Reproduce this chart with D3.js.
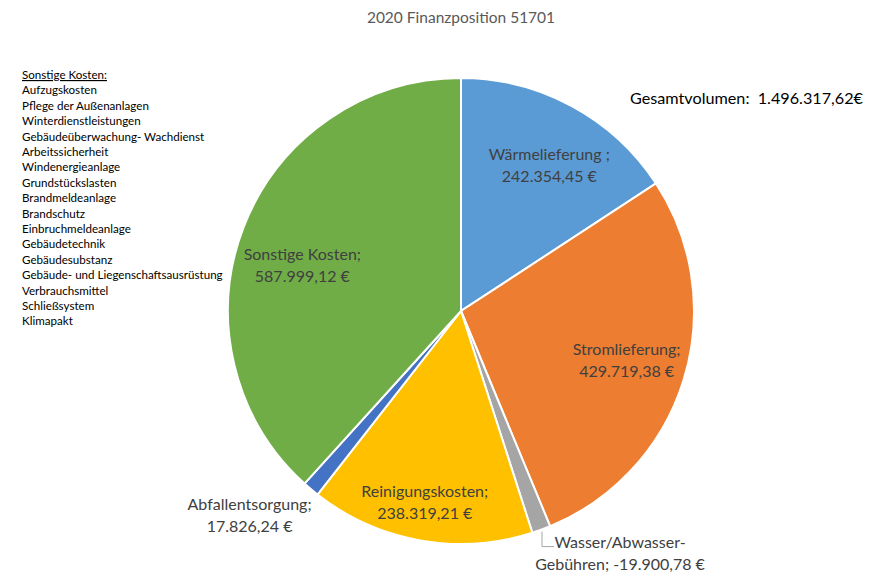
<!DOCTYPE html>
<html>
<head>
<meta charset="utf-8">
<script src="https://cdn.jsdelivr.net/npm/d3@7"></script>
<style>
  body { margin: 0; background: #fff; }
  text { font-family: Lato, "Noto Sans", sans-serif; }
</style>
</head>
<body>
<div id="chart"></div>
<script>
const width = 873,
    height = 573;

// Data
const categories = ["Wärmelieferung", "Stromlieferung", "Wasser/Abwasser-Gebühren",
    "Reinigungskosten", "Abfallentsorgung", "Sonstige Kosten"];
const values = [242354.45, 429719.38, -19900.78, 238319.21, 17826.24, 587999.12];
const colors = ["#5B9BD5", "#ED7D31", "#A5A5A5", "#FFC000", "#4472C4", "#70AD47"];
const labelLines = [
    ["Wärmelieferung ;", "242.354,45 €"],
    ["Stromlieferung;", "429.719,38 €"],
    ["Wasser/Abwasser-", "Gebühren; -19.900,78 €"],
    ["Reinigungskosten;", "238.319,21 €"],
    ["Abfallentsorgung;", "17.826,24 €"],
    ["Sonstige Kosten;", "587.999,12 €"]
];
const sonstigeList = ["Aufzugskosten", "Pflege der Außenanlagen", "Winterdienstleistungen",
    "Gebäudeüberwachung- Wachdienst", "Arbeitssicherheit", "Windenergieanlage",
    "Grundstückslasten", "Brandmeldeanlage", "Brandschutz", "Einbruchmeldeanlage",
    "Gebäudetechnik", "Gebäudesubstanz", "Gebäude- und Liegenschaftsausrüstung",
    "Verbrauchsmittel", "Schließsystem", "Klimapakt"];
const total = "1.496.317,62€";

const cx = 461, cy = 311, radius = 233;

let svg = d3.select('#chart').append('svg')
    .attr('width', width)
    .attr('height', height);

svg.append("text")
    .attr("x", cx).attr("y", 23)
    .attr("text-anchor", "middle")
    .attr("font-size", 15.5)
    .attr("fill", "#595959")
    .text("2020 Finanzposition 51701");

let data = categories.map((c, i) => ({ name: c, value: Math.abs(values[i]), i: i }));

let pie = d3.pie().sort(null).value(d => d.value);
let arc = d3.arc().innerRadius(0).outerRadius(radius);
let arcs = pie(data);

let g = svg.append("g").attr("transform", `translate(${cx},${cy})`);

g.selectAll("path")
    .data(arcs)
    .enter()
    .append("path")
    .attr("d", arc)
    .attr("fill", d => colors[d.data.i])
    .style("stroke", "#fff")
    .style("stroke-width", 2);

// label placement: radius factor and small nudges per slice
const labelR = [0.725, 0.744, 1.2, 0.838, 1.262, 0.707];
const nudge = [[8, 4], [0, -1], [0, 0], [-2, 0], [-22, -20], [-5, 14]];

arcs.forEach((a, k) => {
    let mid = (a.startAngle + a.endAngle) / 2;
    let r = radius * labelR[k];
    let x = Math.sin(mid) * r + nudge[k][0];
    let y = -Math.cos(mid) * r + nudge[k][1];
    if (k === 2) {
        // small water slice: label below the pie, with a leader line
        let ex = Math.sin(mid) * (radius + 2), ey = -Math.cos(mid) * (radius + 2);
        let ly = ey + 15;
        g.append("path")
            .attr("d", `M${ex},${ey} L${ex},${ly} L${ex + 12},${ly}`)
            .attr("fill", "none")
            .attr("stroke", "#A5A5A5")
            .attr("stroke-width", 1);
        x = ex + 78;
        y = ly + 7;
    }
    let t = g.append("text")
        .attr("text-anchor", "middle")
        .attr("font-size", 16)
        .attr("fill", "#404040");
    labelLines[k].forEach((line, j) => {
        t.append("tspan")
            .attr("x", x)
            .attr("y", y - 6 + j * 22)
            .text(line);
    });
});

// total volume
svg.append("text")
    .attr("x", 630).attr("y", 104)
    .attr("font-size", 16.2)
    .attr("fill", "#000")
    .attr("xml:space", "preserve")
    .text("Gesamtvolumen:  " + total);

// list of Sonstige Kosten
let list = svg.append("text")
    .attr("font-size", 11.6)
    .attr("fill", "#000");
list.append("tspan")
    .attr("x", 22).attr("y", 79)
    .attr("text-decoration", "underline")
    .text("Sonstige Kosten:");
sonstigeList.forEach((s, i) => {
    list.append("tspan")
        .attr("x", 22)
        .attr("y", 79 + (i + 1) * 15.4)
        .text(s);
});
</script>
</body>
</html>
